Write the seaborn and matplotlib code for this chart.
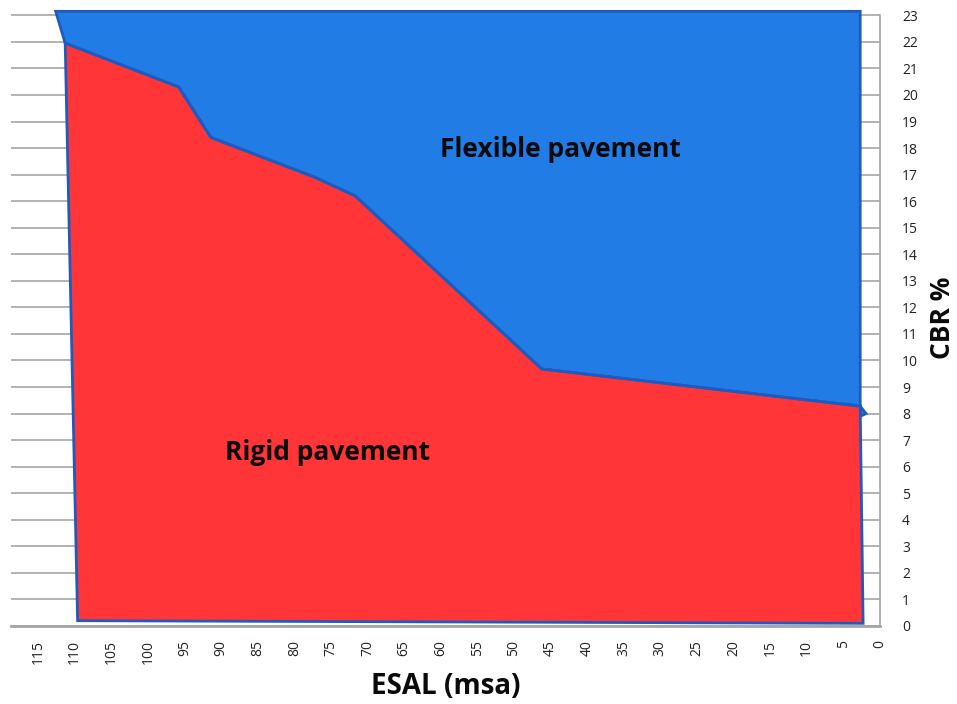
import matplotlib
matplotlib.use("Agg")
import matplotlib.pyplot as plt
import seaborn as sns
import pandas as pd

# Boundary between rigid (below) and flexible (above) zones: ESAL (msa) vs CBR %
boundary_esal = [111.3, 95.8, 91.4, 77.2, 71.7, 46.2, 2.7]
boundary_cbr = [21.95, 20.3, 18.4, 16.9, 16.2, 9.68, 8.28]

# Outer corners of the two zones
flex_top_esal = [2.7, 112.6]
flex_top_cbr = [23.15, 23.15]
rigid_bottom_esal = [2.3, 109.6]
rigid_bottom_cbr = [0.1, 0.2]

x_ticks = list(range(0, 120, 5))
y_ticks = list(range(0, 24))

sns.set_theme(style="white")
plt.rcParams['font.family'] = ['Open Sans', 'DejaVu Sans']

fig = plt.figure(figsize=(9.57, 7.04), dpi=100)
ax = fig.add_axes([0.0115, 0.1108, 0.908, 0.875])

red = "#FF3538"
blue = "#217CE6"
edge = "#1F5BBE"

# horizontal gridlines
for yv in y_ticks:
    ax.axhline(yv, color="#A6A6A6", lw=1.2, zorder=0)

# flexible zone polygon
flex_x = [flex_top_esal[1], flex_top_esal[0], boundary_esal[-1], 1.9, boundary_esal[-1]] + boundary_esal[::-1]
flex_y = [flex_top_cbr[1], flex_top_cbr[0], boundary_cbr[-1], 8.0, 7.9] + boundary_cbr[::-1]
ax.fill(flex_x, flex_y, facecolor=blue, edgecolor=edge, lw=2, zorder=2, clip_on=False)

# rigid zone polygon
rig_x = boundary_esal + rigid_bottom_esal
rig_y = boundary_cbr + rigid_bottom_cbr
ax.fill(rig_x, rig_y, facecolor=red, edgecolor=edge, lw=2, zorder=3, clip_on=False)

# boundary line via seaborn
df = pd.DataFrame({"esal": boundary_esal, "cbr": boundary_cbr})
sns.lineplot(data=df, x="esal", y="cbr", sort=False, color=edge, lw=2, ax=ax, zorder=4)

ax.text(43.6, 17.95, "Flexible pavement", fontsize=19, fontweight="bold",
        ha="center", va="center", color="#0A0A0A", zorder=5)
ax.text(75.5, 6.55, "Rigid pavement", fontsize=19, fontweight="bold",
        ha="center", va="center", color="#0A0A0A", zorder=5)

ax.set_xlim(118.7, 0)
ax.set_ylim(0, 23.2)
ax.set_xticks(x_ticks)
ax.set_xticklabels([str(v) for v in x_ticks], rotation=90, fontsize=10, color="#222222")
ax.set_yticks(y_ticks)
ax.set_yticklabels([str(v) for v in y_ticks], fontsize=10, color="#222222")
ax.yaxis.tick_right()
ax.tick_params(axis="x", length=0, pad=10)
ax.tick_params(axis="y", length=0, pad=16)

for s in ["top", "left"]:
    ax.spines[s].set_visible(False)
ax.spines["bottom"].set_color("#A6A6A6")
ax.spines["bottom"].set_linewidth(2)
ax.spines["right"].set_color("#A6A6A6")
ax.spines["right"].set_linewidth(1.2)
ax.spines["right"].set_bounds(0, 23)

ax.set_xlabel("ESAL (msa)", fontsize=20, fontweight="bold", color="#0A0A0A", labelpad=6)
ax.set_ylabel("CBR %", fontsize=19, fontweight="bold", color="#0A0A0A", labelpad=8)
ax.yaxis.set_label_position("right")
ax.grid(False)

fig.savefig("out.png", dpi=100)
